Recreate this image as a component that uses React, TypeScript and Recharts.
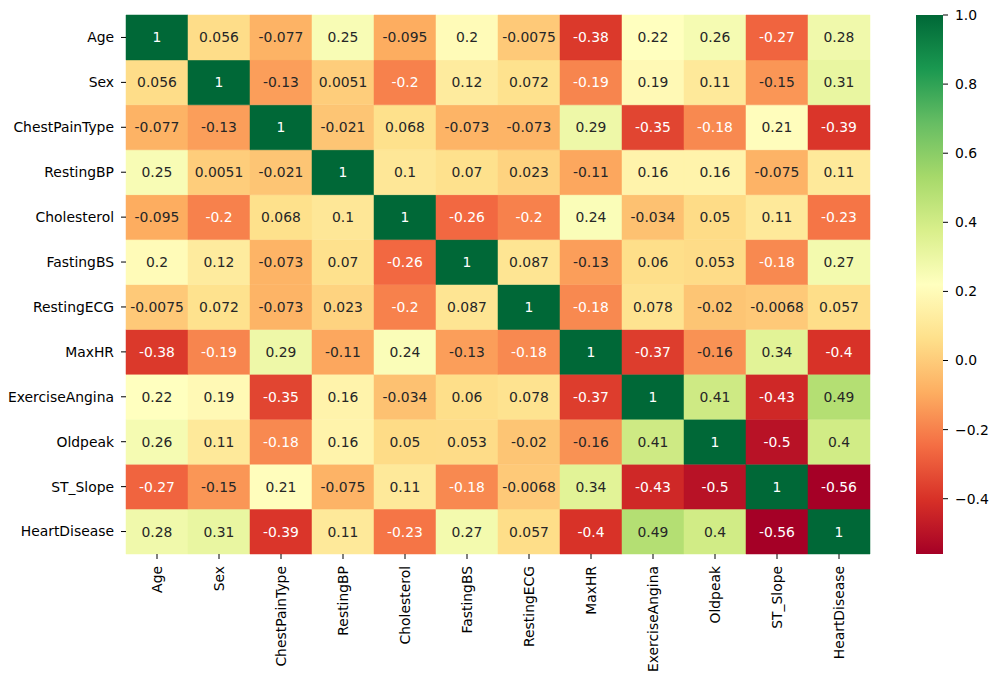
import { BarChart, Bar, XAxis, YAxis, Cell, LabelList } from 'recharts';

const features = [
  'Age', 'Sex', 'ChestPainType', 'RestingBP', 'Cholesterol', 'FastingBS',
  'RestingECG', 'MaxHR', 'ExerciseAngina', 'Oldpeak', 'ST_Slope', 'HeartDisease',
];

const ageRow = [1, 0.056, -0.077, 0.25, -0.095, 0.2, -0.0075, -0.38, 0.22, 0.26, -0.27, 0.28];
const sexRow = [0.056, 1, -0.13, 0.0051, -0.2, 0.12, 0.072, -0.19, 0.19, 0.11, -0.15, 0.31];
const chestPainRow = [-0.077, -0.13, 1, -0.021, 0.068, -0.073, -0.073, 0.29, -0.35, -0.18, 0.21, -0.39];
const restingBpRow = [0.25, 0.0051, -0.021, 1, 0.1, 0.07, 0.023, -0.11, 0.16, 0.16, -0.075, 0.11];
const cholesterolRow = [-0.095, -0.2, 0.068, 0.1, 1, -0.26, -0.2, 0.24, -0.034, 0.05, 0.11, -0.23];
const fastingBsRow = [0.2, 0.12, -0.073, 0.07, -0.26, 1, 0.087, -0.13, 0.06, 0.053, -0.18, 0.27];
const restingEcgRow = [-0.0075, 0.072, -0.073, 0.023, -0.2, 0.087, 1, -0.18, 0.078, -0.02, -0.0068, 0.057];
const maxHrRow = [-0.38, -0.19, 0.29, -0.11, 0.24, -0.13, -0.18, 1, -0.37, -0.16, 0.34, -0.4];
const anginaRow = [0.22, 0.19, -0.35, 0.16, -0.034, 0.06, 0.078, -0.37, 1, 0.41, -0.43, 0.49];
const oldpeakRow = [0.26, 0.11, -0.18, 0.16, 0.05, 0.053, -0.02, -0.16, 0.41, 1, -0.5, 0.4];
const stSlopeRow = [-0.27, -0.15, 0.21, -0.075, 0.11, -0.18, -0.0068, 0.34, -0.43, -0.5, 1, -0.56];
const heartDiseaseRow = [0.28, 0.31, -0.39, 0.11, -0.23, 0.27, 0.057, -0.4, 0.49, 0.4, -0.56, 1];

const matrix = [
  ageRow, sexRow, chestPainRow, restingBpRow, cholesterolRow, fastingBsRow,
  restingEcgRow, maxHrRow, anginaRow, oldpeakRow, stSlopeRow, heartDiseaseRow,
];

const colorbarTicks = [-0.4, -0.2, 0, 0.2, 0.4, 0.6, 0.8, 1.0];

// matplotlib RdYlGn control colours, low -> high
const rdYlGn = [
  '#a50026', '#d73027', '#f46d43', '#fdae61', '#fee08b', '#ffffbf',
  '#d9ef8b', '#a6d96a', '#66bd63', '#1a9850', '#006837',
];

const vmin = Math.min(...matrix.flat());
const vmax = 1;

const hexToRgb = (h: string) => [1, 3, 5].map((i) => parseInt(h.slice(i, i + 2), 16));

function rgbFor(v: number) {
  const t = Math.max(0, Math.min(1, (v - vmin) / (vmax - vmin))) * (rdYlGn.length - 1);
  const i = Math.min(Math.floor(t), rdYlGn.length - 2);
  const f = t - i;
  const a = hexToRgb(rdYlGn[i]);
  const b = hexToRgb(rdYlGn[i + 1]);
  return a.map((c, k) => Math.round(c + (b[k] - c) * f));
}

const colorFor = (v: number) => {
  const [r, g, b] = rgbFor(v);
  return `rgb(${r},${g},${b})`;
};

// same rule seaborn uses to choose annotation colour
function textColorFor(v: number) {
  const lin = rgbFor(v).map((c) => {
    const s = c / 255;
    return s <= 0.03928 ? s / 12.92 : Math.pow((s + 0.055) / 1.055, 2.4);
  });
  const lum = 0.2126 * lin[0] + 0.7152 * lin[1] + 0.0722 * lin[2];
  return lum > 0.408 ? '#262626' : '#ffffff';
}

const fmt = (v: number) => String(Number(v.toPrecision(2)));

const heatData = features.map((col, c) => {
  const entry: Record<string, string | number> = { col };
  features.forEach((_, r) => {
    entry[`s${r}`] = 1;
    entry[`v${r}`] = matrix[r][c];
  });
  return entry;
});

const colorbarData = [{ name: 'cb', range: [vmin, vmax] }];

const FONT = 13.9;

function XTick(props: any) {
  const { x, y, payload } = props;
  return (
    <text
      x={x}
      y={y}
      transform={`rotate(-90, ${x}, ${y})`}
      textAnchor="end"
      dominantBaseline="central"
      fontSize={FONT}
      fill="#000"
    >
      {payload.value}
    </text>
  );
}

function CellLabel(props: any) {
  const box = props.viewBox ?? props;
  const { x, y, width, height } = box;
  const v = Number(props.value);
  return (
    <text
      x={x + width / 2}
      y={y + height / 2}
      textAnchor="middle"
      dominantBaseline="central"
      fontSize={FONT}
      fill={textColorFor(v)}
    >
      {fmt(v)}
    </text>
  );
}

export default function App() {
  const rowOrder = features.map((_, i) => features.length - 1 - i);
  const last = rdYlGn.length - 1;
  return (
    <div
      style={{
        position: 'absolute',
        left: 0,
        top: 0,
        width: 996,
        height: 680,
        background: '#fff',
        fontFamily: '"DejaVu Sans", sans-serif',
      }}
    >
      <div style={{ position: 'absolute', left: 0, top: 0 }}>
        <BarChart
          width={880}
          height={680}
          data={heatData}
          margin={{ top: 15, right: 10, bottom: 6, left: 0 }}
          barCategoryGap={0}
          barGap={0}
        >
          <XAxis
            dataKey="col"
            type="category"
            height={120}
            interval={0}
            axisLine={false}
            tickLine={{ stroke: '#000' }}
            tickSize={5}
            tickMargin={7}
            tick={<XTick />}
          />
          <YAxis
            type="number"
            domain={[0, 12]}
            ticks={features.map((_, i) => i + 0.5)}
            interval={0}
            width={126}
            axisLine={false}
            tickLine={{ stroke: '#000' }}
            tickSize={5}
            tickMargin={7}
            tick={{ fill: '#000', fontSize: FONT }}
            tickFormatter={(v: number) => features[features.length - 1 - Math.floor(v)]}
          />
          {rowOrder.map((r) => (
            <Bar key={r} dataKey={`s${r}`} stackId="heat" isAnimationActive={false}>
              {matrix[r].map((v, c) => (
                <Cell key={c} fill={colorFor(v)} stroke={colorFor(v)} strokeWidth={0.5} />
              ))}
              <LabelList dataKey={`v${r}`} content={<CellLabel />} />
            </Bar>
          ))}
        </BarChart>
      </div>
      <div style={{ position: 'absolute', left: 916, top: 0 }}>
        <BarChart
          width={87}
          height={680}
          data={colorbarData}
          margin={{ top: 15, right: 0, bottom: 126, left: 0 }}
          barCategoryGap={0}
        >
          <defs>
            <linearGradient id="cbGrad" x1="0" y1="0" x2="0" y2="1">
              {rdYlGn.map((_, i) => (
                <stop key={i} offset={i / last} stopColor={rdYlGn[last - i]} />
              ))}
            </linearGradient>
          </defs>
          <XAxis dataKey="name" hide />
          <YAxis
            orientation="right"
            type="number"
            domain={[vmin, vmax]}
            ticks={colorbarTicks}
            interval={0}
            width={60}
            axisLine={false}
            tickLine={{ stroke: '#000' }}
            tickSize={5}
            tickMargin={7}
            tick={{ fill: '#000', fontSize: FONT }}
            tickFormatter={(v: number) => v.toFixed(1).replace('-', '\u2212')}
          />
          <Bar dataKey="range" fill="url(#cbGrad)" isAnimationActive={false} />
        </BarChart>
      </div>
    </div>
  );
}
